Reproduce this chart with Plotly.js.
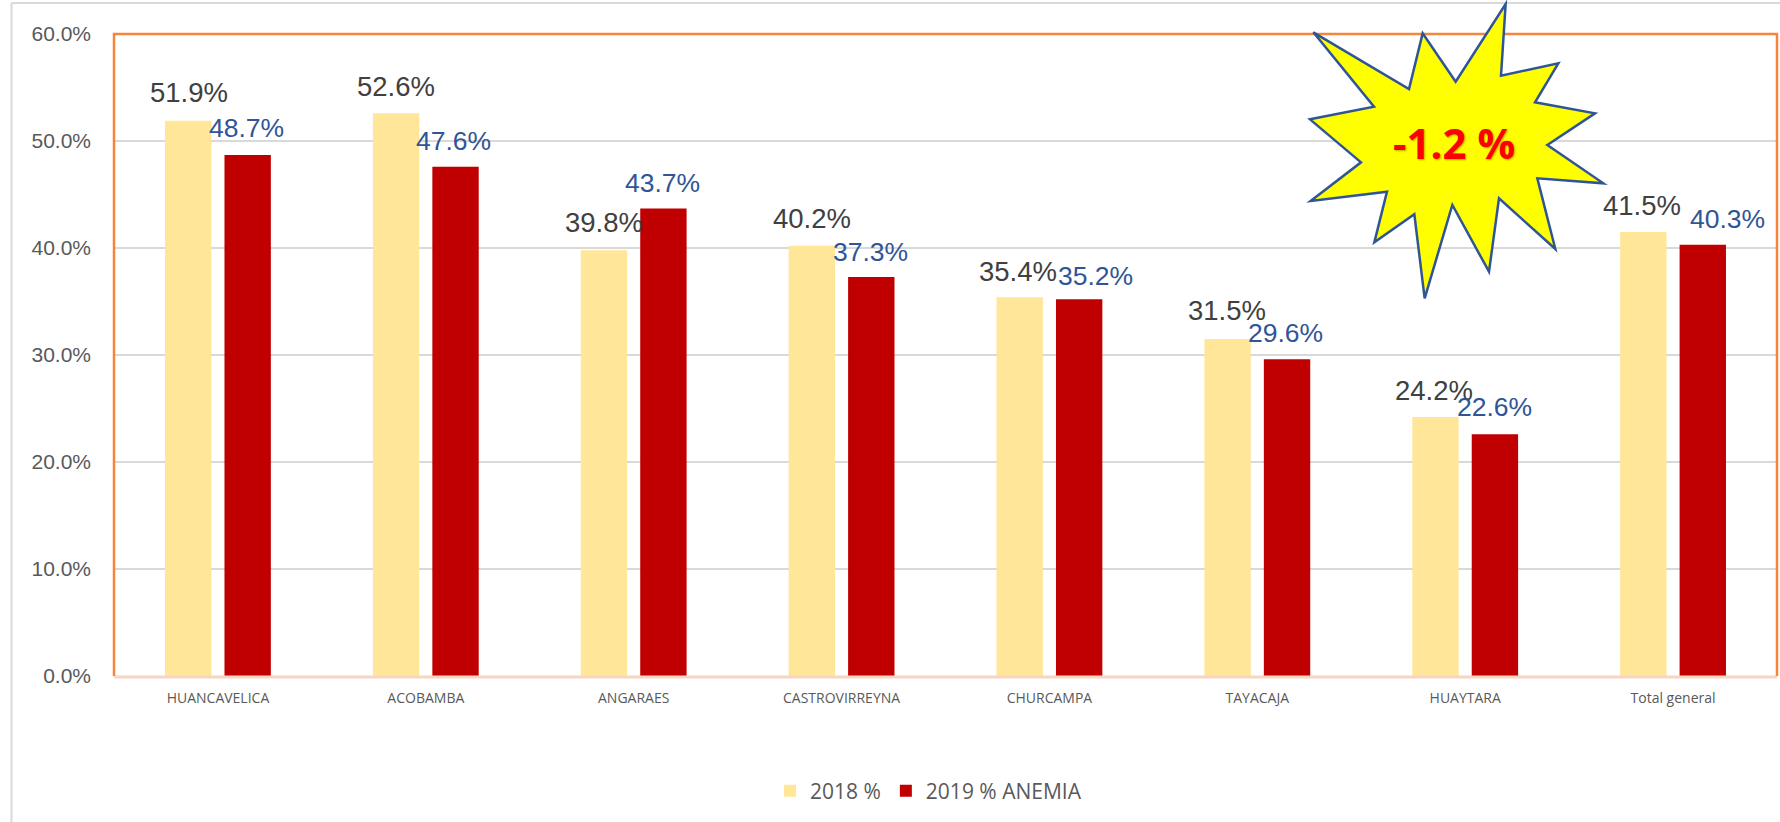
<!DOCTYPE html>
<html><head><meta charset="utf-8">
<script src="https://cdn.plot.ly/plotly-3.0.1.min.js"></script>
<style>html,body{margin:0;padding:0;background:#fff;overflow:hidden}#c{width:1780px;height:822px}</style>
</head><body><div id="c"></div>
<script>
const categories = ['HUANCAVELICA','ACOBAMBA','ANGARAES','CASTROVIRREYNA','CHURCAMPA','TAYACAJA','HUAYTARA','Total general'];
const values2018 = [51.9,52.6,39.8,40.2,35.4,31.5,24.2,41.5];
const values2019 = [48.7,47.6,43.7,37.3,35.2,29.6,22.6,40.3];
const yTicks = [0,10,20,30,40,50,60];
const seriesNames = ['2018 %','2019 % ANEMIA'];

const labelDx2018 = [-29,-30,-30,-30,-31,-30,-31,-31];
const labelDy2018 = [28,27,28,27,26,28,27,26];
const labelDx2019 = [29,28,29,29,46,28,29,54];
const labelDy2019 = [27,26,25,25,23,26,27,26];

const W=1780,H=822,L=114,R=1777,T=34,B=676;
const px=x=>(x-L)/(R-L), py=y=>(B-y)/(B-T);
const starPts=[[160,97],[447,267],[488,100],[587,245],[737,12],[723,227],[895,190],[825,307],[1005,340],[862,435],[1030,550],[832,535],[886,747],[717,595],[687,815],[577,615],[494,895],[463,643],[343,727],[381,575],[152,603],[303,487],[150,358],[342,320]];
const starPath=starPts.map((p,i)=>(i?'L':'M')+px(1260+p[0]/3).toFixed(5)+','+py(p[1]/3).toFixed(5)).join(' ')+' Z';

const labels=(vals,dx,dy,color,size)=>vals.map((v,i)=>({xref:'x',yref:'y',x:i,y:v,text:v.toFixed(1)+'%',showarrow:false,
  xanchor:'center',yanchor:'middle',xshift:dx[i],yshift:dy[i],font:{family:'Liberation Sans',size,color}}));

const traces=[
 {type:'bar',name:seriesNames[0],x:categories,y:values2018,marker:{color:'#FFE699'}},
 {type:'bar',name:seriesNames[1],x:categories,y:values2019,marker:{color:'#C00000'}}
];
const layout={
 width:W,height:H,paper_bgcolor:'#fff',plot_bgcolor:'#fff',
 margin:{l:L,r:W-R,t:T,b:H-B,pad:0},
 barmode:'group',bargap:0.428,bargroupgap:0.22,
 xaxis:{type:'category',showgrid:false,zeroline:false,showline:false,ticks:'',ticklabelstandoff:12,
   tickfont:{family:'Open Sans',size:14,color:'#595959'},fixedrange:true},
 yaxis:{range:[0,60],tickvals:yTicks,ticktext:yTicks.map(v=>v.toFixed(1)+'%'),showgrid:true,gridcolor:'#D9D9D9',gridwidth:1.5,
   zeroline:false,showline:false,ticks:'',ticklabelstandoff:22,tickfont:{family:'Liberation Sans',size:21,color:'#595959'},fixedrange:true},
 showlegend:true,
 legend:{orientation:'h',x:px(770),xanchor:'left',y:py(791),yanchor:'middle',font:{family:'Open Sans',size:21,color:'#595959'},
   itemwidth:30,bgcolor:'rgba(0,0,0,0)',traceorder:'normal'},
 shapes:[
  {type:'line',xref:'paper',yref:'paper',x0:px(11.5),x1:px(11.5),y0:py(3),y1:py(822),line:{color:'#D9D9D9',width:2}},
  {type:'line',xref:'paper',yref:'paper',x0:px(11.5),x1:px(1780),y0:py(3),y1:py(3),line:{color:'#D9D9D9',width:2}},
  {type:'line',xref:'paper',yref:'paper',x0:0,x1:1,y0:py(677),y1:py(677),line:{color:'#F6D5C3',width:3},layer:'above'},
  {type:'path',xref:'paper',yref:'paper',path:`M0,0 L0,1 L1,1 L1,0`,line:{color:'#F58539',width:2.5},layer:'above'},
  {type:'path',xref:'paper',yref:'paper',path:starPath,fillcolor:'#FFFF00',line:{color:'#2F5597',width:2.5},layer:'above'}
 ],
 annotations:[
  ...labels(values2018,labelDx2018,labelDy2018,'#404040',27.5),
  ...labels(values2019,labelDx2019,labelDy2019,'#2F5597',26.5),
  {xref:'paper',yref:'paper',x:px(1454),y:py(142),text:'<b>-1.2 %</b>',showarrow:false,xanchor:'center',yanchor:'middle',
   font:{family:'Open Sans',size:42,color:'#FF0000',shadow:'1px 1px 2px rgba(0,0,0,0.3)'}}
 ]
};
Plotly.newPlot('c',traces,layout,{displayModeBar:false,staticPlot:true});
</script></body></html>
